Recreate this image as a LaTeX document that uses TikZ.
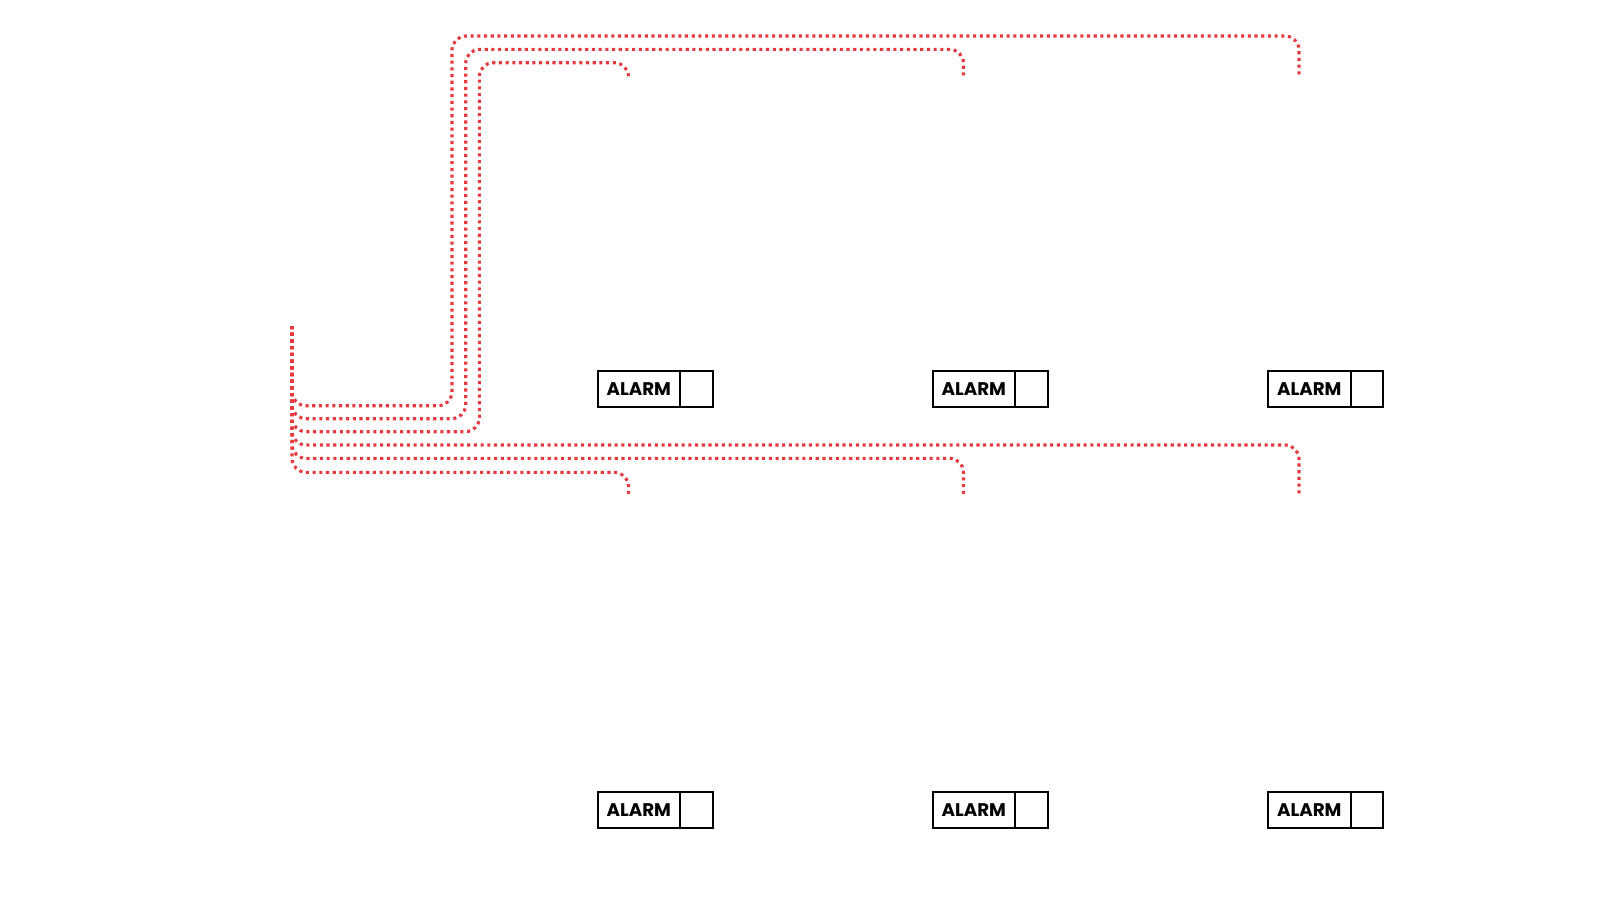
\documentclass[tikz,border=0pt]{standalone}
\usepackage{fontspec}
\newfontfamily\popfont{Poppins}
\definecolor{wirered}{RGB}{229,57,61}
\tikzset{
  wire/.style={draw=wirered, line width=3.1pt, dash pattern=on 3.1pt off 3.6pt, rounded corners=14pt},
  alarmlabel/.style={draw=black, line width=2pt, outer sep=0pt, minimum width=82.6pt, minimum height=35.7pt, inner sep=0pt, anchor=north west, font=\popfont\bfseries\fontsize{18.3}{18.3}\selectfont},
  alarmsq/.style={draw=black, line width=2pt, outer sep=0pt, minimum width=32.4pt, minimum height=35.7pt, inner sep=0pt, anchor=west}
}
\begin{document}
\begin{tikzpicture}[x=1pt,y=-1pt]
\useasboundingbox (0,0) rectangle (1600,900);
% alarm boxes
\foreach \n/\xx/\yy in {a/597.5/371, b/932.5/371, c/1268/371, d/597.5/792, e/932.5/792, f/1268/792}{
  \node[alarmlabel] (\n) at (\xx,\yy) {ALARM};
  \node[alarmsq] (\n sq) at (\n.east) {};
}
% start and end coordinates
\coordinate (src) at (292,326);
\coordinate (t1) at (628.5,76);
\coordinate (t2) at (963.5,76);
\coordinate (t3) at (1299,76);
\coordinate (b1) at (628.5,496);
\coordinate (b2) at (963.5,496);
\coordinate (b3) at (1299,496);
% top wires
\draw[wire] (src) |- (452,405.7) |- (t3 |- 0,36) -- (t3);
\draw[wire] (src) |- (465.7,418.7) |- (t2 |- 0,49.3) -- (t2);
\draw[wire] (src) |- (479.3,431.7) |- (t1 |- 0,62.7) -- (t1);
% bottom wires
\draw[wire] (src) |- (t3 |- 0,445) -- (b3);
\draw[wire] (src) |- (t2 |- 0,458.3) -- (b2);
\draw[wire] (src) |- (t1 |- 0,472.3) -- (b1);
\end{tikzpicture}
\end{document}
